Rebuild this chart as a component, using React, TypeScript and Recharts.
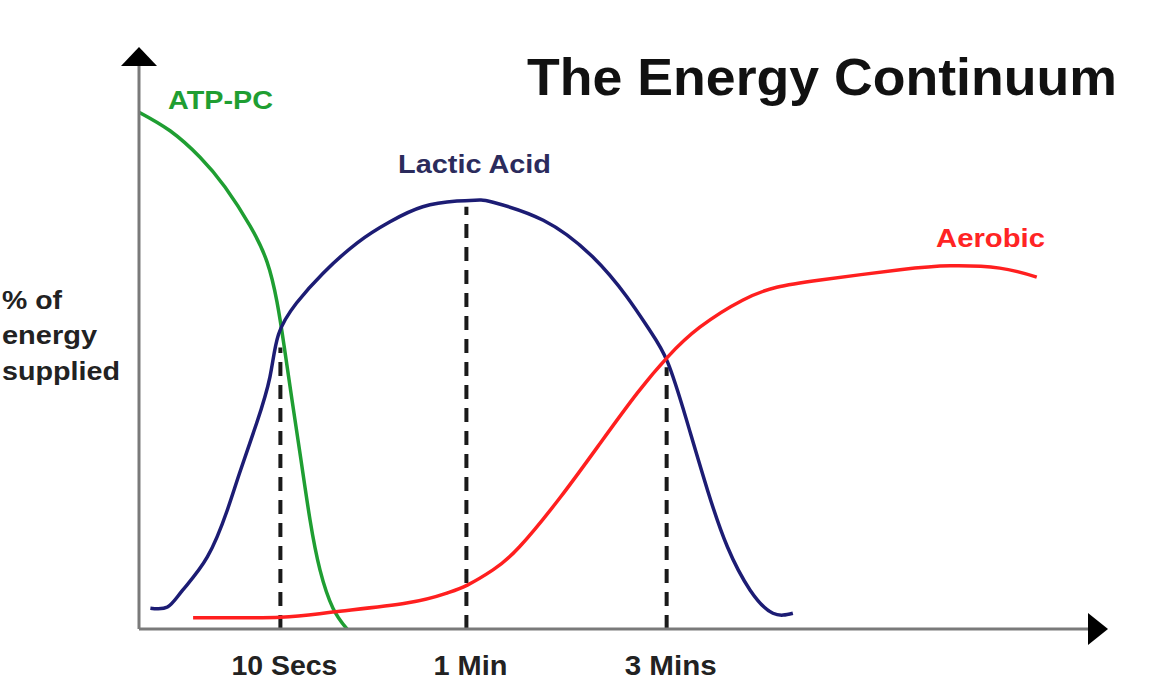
import React from "react";
import { LineChart, Line, XAxis, YAxis, ReferenceLine, ReferenceDot } from "recharts";

// x: % of the time axis width, y: % of energy supplied
const atpPc = [
  [0, 91.8], [3.27, 88.5], [6.43, 83.8], [9.06, 78.5], [11.7, 71.6], [13.49, 65.2],
  [14.54, 58.1], [15.28, 50.4], [16.12, 40.7], [17.07, 30.0], [18.02, 19.4],
  [19.07, 10.5], [20.44, 3.7], [21.92, 0],
];

const lacticAcid = [
  [1.2, 3.7], [3.0, 3.9], [4.6, 6.9], [7.2, 12.8], [9.3, 21.1], [10.6, 27.7],
  [12.4, 36.6], [13.8, 44.8], [14.7, 52.3], [16.6, 57.9], [19.4, 63.2],
  [23.0, 68.6], [26.4, 72.3], [29.9, 75.0], [33.5, 76.0], [35.9, 76.2],
  [37.3, 75.8], [42.6, 72.6], [47.8, 66.1], [51.4, 59.0], [53.8, 53.1],
  [55.7, 47.4], [57.7, 37.1], [59.9, 24.7], [62.0, 14.6], [64.4, 6.9],
  [66.8, 2.8], [68.9, 2.8],
];

const aerobic = [
  [5.7, 2.0], [14.9, 2.1], [20.4, 3.0], [28.2, 4.6], [32.5, 6.4], [34.6, 7.8],
  [37.3, 10.5], [40.1, 14.6], [44.4, 23.4], [48.6, 33.0], [52.5, 41.9],
  [55.7, 48.3], [59.1, 53.6], [63.6, 58.4], [67.2, 60.7], [71.8, 62.0],
  [80.2, 63.8], [85.5, 64.5], [90.7, 64.1], [94.6, 62.5],
];

const tickValues = [14.9, 34.5, 55.6];
const tickLabels = ["10 Secs", "1 Min", "3 Mins"];
const tickWidths = [106, 74, 92];
// height the dashed marker reaches at each time mark
const markerTops = [50, 75, 46.5];

const toPoints = (arr: number[][]) => arr.map(([x, y]) => ({ x, y }));

const FONT = "'Liberation Sans', Arial, sans-serif";

const TimeTick = (props: any) => {
  const { x, y, payload } = props;
  const i = tickValues.indexOf(payload.value);
  return (
    <text
      x={x + 4}
      y={y + 38}
      textAnchor="middle"
      fontFamily={FONT}
      fontWeight="bold"
      fontSize={27}
      fill="#222"
      textLength={tickWidths[i]}
      lengthAdjust="spacingAndGlyphs"
    >
      {tickLabels[i]}
    </text>
  );
};

const UpArrow = (props: any) => {
  const { cx, cy } = props;
  return <polygon points={`${cx - 18},${cy} ${cx + 18},${cy} ${cx},${cy - 19}`} fill="#000" />;
};

const RightArrow = (props: any) => {
  const { cx, cy } = props;
  return <polygon points={`${cx},${cy - 16} ${cx},${cy + 16} ${cx + 20},${cy}`} fill="#000" />;
};

export default function App() {
  return (
    <div style={{ position: "absolute", left: 0, top: 0, width: 1154, height: 692, background: "#fff" }}>
      <LineChart width={1154} height={692} margin={{ top: 66, right: 66, left: 0, bottom: 0 }}>
        <XAxis
          type="number"
          dataKey="x"
          domain={[0, 100]}
          ticks={tickValues}
          tick={<TimeTick />}
          tickLine={false}
          axisLine={{ stroke: "#7a7a7a", strokeWidth: 3 }}
          height={63}
          allowDataOverflow
        />
        <YAxis
          type="number"
          dataKey="y"
          domain={[0, 100]}
          tick={false}
          tickLine={false}
          axisLine={{ stroke: "#7a7a7a", strokeWidth: 3 }}
          width={139}
          allowDataOverflow
        />
        {tickValues.map((v, i) => (
          <ReferenceLine
            key={v}
            segment={[{ x: v, y: 0 }, { x: v, y: markerTops[i] }]}
            stroke="#1a1a1a"
            strokeWidth={4}
            strokeDasharray="14 9"
          />
        ))}
        <Line
          data={toPoints(atpPc)}
          dataKey="y"
          type="natural"
          stroke="#1f9e32"
          strokeWidth={3.5}
          dot={false}
          isAnimationActive={false}
        />
        <Line
          data={toPoints(lacticAcid)}
          dataKey="y"
          type="natural"
          stroke="#1c1c74"
          strokeWidth={3.5}
          dot={false}
          isAnimationActive={false}
        />
        <Line
          data={toPoints(aerobic)}
          dataKey="y"
          type="natural"
          stroke="#ff1f1f"
          strokeWidth={3.5}
          dot={false}
          isAnimationActive={false}
        />
        <ReferenceDot x={0} y={100} r={0} shape={<UpArrow />} />
        <ReferenceDot x={100} y={0} r={0} shape={<RightArrow />} />
      </LineChart>
      <svg
        width={1154}
        height={692}
        style={{ position: "absolute", left: 0, top: 0, pointerEvents: "none" }}
        fontFamily={FONT}
        fontWeight="bold"
      >
        <text x={527} y={95} fontSize={52} fill="#111" textLength={590} lengthAdjust="spacingAndGlyphs">
          The Energy Continuum
        </text>
        <text x={168} y={109} fontSize={26} fill="#1f9e32" textLength={105} lengthAdjust="spacingAndGlyphs">
          ATP-PC
        </text>
        <text x={398} y={173} fontSize={25} fill="#2b2b5c" textLength={153} lengthAdjust="spacingAndGlyphs">
          Lactic Acid
        </text>
        <text x={936} y={247} fontSize={26} fill="#ff2424" textLength={109} lengthAdjust="spacingAndGlyphs">
          Aerobic
        </text>
        <text x={2} y={309} fontSize={26} fill="#222" textLength={60} lengthAdjust="spacingAndGlyphs">
          % of
        </text>
        <text x={2} y={344} fontSize={26} fill="#222" textLength={95} lengthAdjust="spacingAndGlyphs">
          energy
        </text>
        <text x={2} y={380} fontSize={26} fill="#222" textLength={118} lengthAdjust="spacingAndGlyphs">
          supplied
        </text>
      </svg>
    </div>
  );
}
